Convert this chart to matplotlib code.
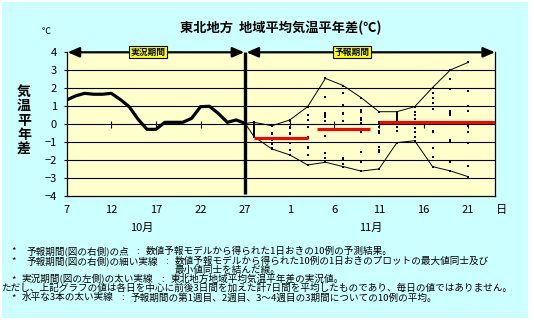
import matplotlib.pyplot as plt
from matplotlib.patches import Rectangle

plt.rcParams['font.family'] = ['Noto Sans CJK JP', 'DejaVu Sans']

W, H = 534, 332

# --- Data ---
# category axis: Oct 7 .. Nov 24 (49 days), labels every 5 days
n_days = 49
tick_idx = [0, 5, 10, 15, 20, 25, 30, 35, 40, 45]
tick_labels = ['7', '12', '17', '22', '27', '1', '6', '11', '16', '21']

# observed 7-day running mean anomaly, Oct 7 .. Oct 27
obs_vals = [1.35, 1.58, 1.72, 1.67, 1.67, 1.72, 1.38, 0.98, 0.28, -0.28,
            -0.28, 0.11, 0.11, 0.11, 0.33, 0.98, 1.00, 0.60, 0.11, 0.24, 0.05]

# forecast: every other day, 10 ensemble members per day
fc_idx = [21, 23, 25, 27, 29, 31, 33, 35, 37, 39, 41, 43, 45]
fc_members = [
    [0.11, 0.05, -0.05, -0.13, -0.25, -0.37, -0.45, -0.56, -0.62, -0.69],
    [-0.08, -0.10, -0.50, -0.55, -0.80, -0.85, -1.05, -1.10, -1.30, -1.37],
    [0.24, 0.20, -0.15, -0.20, -0.50, -0.55, -0.80, -1.05, -1.40, -1.70],
    [0.98, 0.50, 0.25, -0.15, -0.70, -0.75, -1.25, -1.30, -1.70, -2.26],
    [2.55, 1.53, 0.61, 0.50, 0.42, 0.18, -0.63, -1.61, -1.89, -2.11],
    [2.15, 1.72, 1.07, 0.65, 0.60, 0.18, -1.89, -1.95, -2.22, -2.35],
    [1.48, 0.80, 0.70, 0.33, 0.24, 0.10, -0.45, -1.52, -2.07, -2.60],
    [0.70, 0.15, 0.00, -0.15, -0.35, -0.50, -1.25, -1.40, -1.55, -2.48],
    [0.70, 0.60, 0.50, 0.40, 0.30, 0.20, 0.00, -0.15, -0.35, -1.02],
    [0.98, 0.70, 0.52, 0.30, 0.15, 0.06, -0.22, -0.45, -0.69, -0.91],
    [2.04, 1.72, 1.44, 1.20, 0.85, -0.35, -0.40, -1.30, -1.80, -2.35],
    [3.02, 2.50, 1.94, 0.74, 0.65, 0.50, -0.87, -0.96, -2.07, -2.59],
    [3.44, 1.87, 1.02, 0.76, -0.04, -0.10, -0.45, -1.06, -2.30, -2.91],
]

# ensemble means for week 1, week 2 and weeks 3-4
week_start = [21, 28, 35]
week_end = [27, 34, 48]
week_mean = [-0.74, -0.24, 0.15]

notes = [
    ('*', '予報期間(図の右側)の点', '数値予報モデルから得られた1日おきの10例の予測結果。'),
    ('*', '予報期間(図の右側)の細い実線', '数値予報モデルから得られた10例の1日おきのプロットの最大値同士及び'),
    (None, None, '最小値同士を結んだ線。'),
    ('*', '実況期間(図の左側)の太い実線', '東北地方地域平均気温平年差の実況値。'),
    (None, 'ただし、上記グラフの値は各日を中心に前後3日間を加えた計7日間を平均したものであり、毎日の値ではありません。', None),
    ('*', '水平な3本の太い実線', '予報期間の第1週目、2週目、3～4週目の3期間についての10例の平均。'),
]


def fx(px):
    return px / W


def fy(py):
    return 1 - py / H


fig = plt.figure(figsize=(W / 100, H / 100), dpi=100, facecolor='white')
fig.patches.append(Rectangle((fx(2), fy(318)), fx(526), 316 / H,
                             transform=fig.transFigure, facecolor='#CCFFFF',
                             edgecolor='none', zorder=-10))

ax = fig.add_axes([fx(66.7), fy(196.3), fx(428.3), 144 / H])
ax.set_facecolor('#FFFFCC')
ax.set_xlim(0, n_days - 1)
ax.set_ylim(-4, 4)

# horizontal grid
ax.set_yticks(range(-4, 5))
ax.set_yticklabels([str(v) if v >= 0 else '−' + str(-v) for v in range(-4, 5)])
for v in range(-3, 4):
    ax.axhline(v, color='black', lw=0.8, zorder=1)

ax.set_xticks(tick_idx)
ax.set_xticklabels(tick_labels)
ax.tick_params(axis='x', length=0, pad=6.5, labelsize=8)
ax.tick_params(axis='y', length=2, width=0.8, pad=5, labelsize=8)
for s in ['left', 'right', 'bottom']:
    ax.spines[s].set_linewidth(0.9)
ax.spines['top'].set_visible(False)

# small crossing ticks on the zero line
ax.vlines(tick_idx[1:], -0.2, 0.2, color='black', lw=0.8, zorder=2)

# observed period
obs_x = list(range(len(obs_vals)))
ax.plot(obs_x, obs_vals, color='black', lw=2.3, zorder=5,
        solid_joinstyle='round', solid_capstyle='round')
split = obs_x[-1]
ax.vlines(split, -3.85, 4, color='black', lw=2.4, zorder=6)

# ensemble members
for i, members in zip(fc_idx, fc_members):
    ax.plot([i] * len(members), members, 's', color='black', ms=1.9, mew=0,
            zorder=4)

# envelope of the members, starting from the last observed value
env_x = [split] + fc_idx
upper = [obs_vals[-1]] + [max(m) for m in fc_members]
lower = [obs_vals[-1]] + [min(m) for m in fc_members]
ax.plot(env_x, upper, color='black', lw=0.7, zorder=4)
ax.plot(env_x, lower, color='black', lw=0.7, zorder=4)

# weekly means
for a, b, m in zip(week_start, week_end, week_mean):
    ax.plot([a, b], [m, m], color='#FF0000', lw=2.2, zorder=5,
            solid_capstyle='butt')

# period arrows along the top edge
arrow = dict(arrowstyle='<|-|>,head_length=0.7,head_width=0.3',
             color='black', lw=1.6, shrinkA=0, shrinkB=0, mutation_scale=10)
ax.annotate('', xy=(split - 0.1, 4), xytext=(0.1, 4), arrowprops=arrow,
            annotation_clip=False, zorder=7)
ax.annotate('', xy=(n_days - 1, 4), xytext=(split + 0.15, 4), arrowprops=arrow,
            annotation_clip=False, zorder=7)
box = dict(boxstyle='square,pad=0.15', facecolor='#FFFF00',
           edgecolor='black', lw=0.8)
ax.text((148 - 66.7) / 8.92, 4, '実況期間', ha='center', va='center',
        fontsize=6.3, fontweight='bold', bbox=box, zorder=8)
ax.text((352 - 66.7) / 8.92, 4, '予報期間', ha='center', va='center',
        fontsize=6.3, fontweight='bold', bbox=box, zorder=8)

# titles and axis captions
fig.text(fx(281), fy(27.5), '東北地方  地域平均気温平年差(℃)', ha='center',
         va='center', fontsize=9.5, fontweight='bold')
fig.text(fx(46), fy(31.5), '℃', ha='center', va='center', fontsize=6.5)
for k, ch in enumerate('気温平年差'):
    fig.text(fx(24), fy(91.7 + 14.6 * k), ch, ha='center', va='center',
             fontsize=10, fontweight='bold')
fig.text(fx(502), fy(210.5), '日', ha='center', va='center', fontsize=8)
fig.text(fx(142), fy(228), '10月', ha='center', va='center', fontsize=8)
fig.text(fx(371), fy(228), '11月', ha='center', va='center', fontsize=8)

# footnotes: star, label, then colon and explanation right after the label;
# a continuation line lines up with the explanation above it
renderer = fig.canvas.get_renderer()
note_y = [251, 261, 270.3, 279.3, 288.3, 297.7]
label_x = [26, 26, None, 21.7, 1, 21.7]
kw = dict(va='center', fontsize=6.9)
value_start = 188.3
for (star, label, value), y, lx in zip(notes, note_y, label_x):
    if star:
        fig.text(fx(13.3), fy(y), star, ha='center', **kw)
    if label:
        t = fig.text(fx(lx), fy(y), label, ha='left', **kw)
        if value:
            end = t.get_window_extent(renderer).x1
            fig.text(fx(end + 9), fy(y), ':', ha='center', **kw)
            value_start = end + 17
            fig.text(fx(value_start), fy(y), value, ha='left', **kw)
    elif value:
        fig.text(fx(value_start), fy(y), value, ha='left', **kw)

fig.savefig('out.png', dpi=100, facecolor=fig.get_facecolor())
